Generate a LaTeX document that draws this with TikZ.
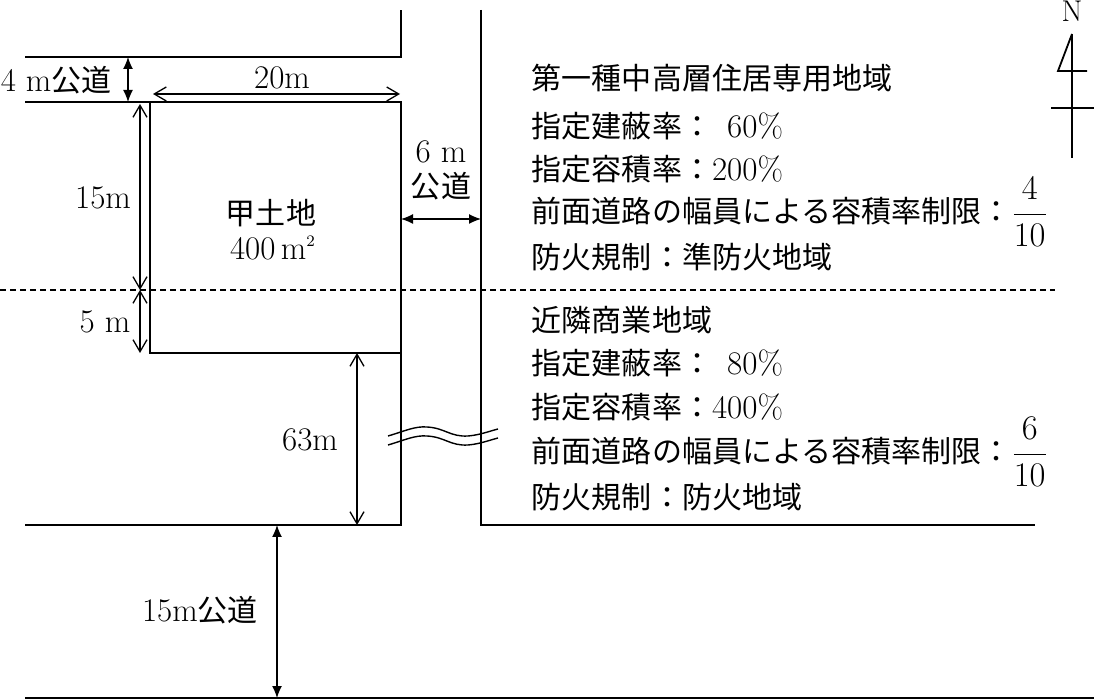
\documentclass[tikz,border=0pt]{standalone}
\usepackage{fontspec}
\usepackage{amsmath}
\usetikzlibrary{arrows.meta}
\newfontfamily\jpfont[Scale=0.91]{Noto Sans CJK JP}

\begin{document}
\begin{tikzpicture}[x=0.5pt,y=-0.5pt,line width=0.9pt,font=\fontsize{16.5}{19}\selectfont,
  dimopen/.style={{Straight Barb[length=6pt,width=7pt]}-{Straight Barb[length=6pt,width=7pt]},line width=0.65pt},
  dimfull/.style={{Latex[length=6pt,width=5pt]}-{Latex[length=6pt,width=5pt]},line width=0.65pt},
  zone/.style={anchor=west,inner sep=0pt}]
\useasboundingbox (0,0) rectangle (1094,700);
% roads and lot
\coordinate (lotNW) at (150,102);
\coordinate (lotNE) at (401,102);
\coordinate (lotSW) at (150,353);
\coordinate (lotSE) at (401,353);
\draw (25,57) -- (401,57) -- (401,10);
\draw (25,102) -- (lotNW);
\draw (lotNW) rectangle (lotSE);
\draw (lotSE) -- (401,525) -- (25,525);
\draw (481,10) -- (481,525) -- (1035,525);
\draw (25,698) -- (1094,698);
\draw[dash pattern=on 3pt off 2pt,line width=0.6pt] (0,290) -- (1055,290);
% break
\foreach \d in {0,9}
  \draw[line width=0.7pt] (388,{436+\d}) .. controls (405,{431+\d}) and (415,{426+\d}) .. (427,{427+\d})
    .. controls (445,{428+\d}) and (450,{437+\d}) .. (468,{436+\d})
    .. controls (480,{435+\d}) and (490,{431+\d}) .. (498,{429+\d});
% north
\node[font=\fontsize{15}{17}\selectfont] (north) at (1072,11) {N};
\coordinate (nTop) at (1072,34);
\draw (nTop) -- (1072,158);
\draw (nTop) -- (1058,71) -- (1087,71);
\draw (1051,108) -- (1094,108);
% dimensions
\coordinate (r4a) at (128,57);
\coordinate (r4b) at (128,102);
\draw[dimfull] (r4a) -- (r4b);
\node[anchor=east] (road4) at (119,80) {4 m{\jpfont 公道}};
\draw[dimopen] (153,94) -- (400,94);
\node (w20) at (282,78) {20m};
\coordinate (d15a) at (140,104);
\coordinate (d15b) at (140,290);
\coordinate (d5b) at (140,353);
\draw[dimopen] (d15a) -- (d15b);
\draw[dimopen] (d15b) -- (d5b);
\node (h15) at (103,198) {15m};
\node (h5) at (105,322) {5 m};
\node (lot) at (271,213) {\jpfont 甲土地};
\node (area) at (273,248) {400\,m$^{\scriptscriptstyle 2}$};
\coordinate (r6a) at (401,219);
\coordinate (r6b) at (481,219);
\draw[dimfull] (r6a) -- (r6b);
\node (w6) at (441,152) {6 m};
\node (w6b) at (441,186) {\jpfont 公道};
\coordinate (d63a) at (357,353);
\coordinate (d63b) at (357,525);
\draw[dimopen] (d63a) -- (d63b);
\node (h63) at (310,440) {63m};
\coordinate (r15a) at (277,525);
\coordinate (r15b) at (277,698);
\draw[dimfull] (r15a) -- (r15b);
\node (road15) at (200,610) {15m{\jpfont 公道}};
% zones
\node[zone] (z1) at (531,78) {\jpfont 第一種中高層住居専用地域};
\node[zone] (z1a) at (531,126) {{\jpfont 指定建蔽率：}\phantom{0}60\%};
\node[zone] (z1b) at (531,169) {{\jpfont 指定容積率：}200\%};
\node[zone] (z1c) at (531,212) {{\jpfont 前面道路の幅員による容積率制限：}$\dfrac{4}{10}$};
\node[zone] (z1d) at (531,257) {\jpfont 防火規制：準防火地域};
\node[zone] (z2) at (531,320) {\jpfont 近隣商業地域};
\node[zone] (z2a) at (531,363) {{\jpfont 指定建蔽率：}\phantom{0}80\%};
\node[zone] (z2b) at (531,407) {{\jpfont 指定容積率：}400\%};
\node[zone] (z2c) at (531,452) {{\jpfont 前面道路の幅員による容積率制限：}$\dfrac{6}{10}$};
\node[zone] (z2d) at (531,497) {\jpfont 防火規制：防火地域};
\end{tikzpicture}
\end{document}
